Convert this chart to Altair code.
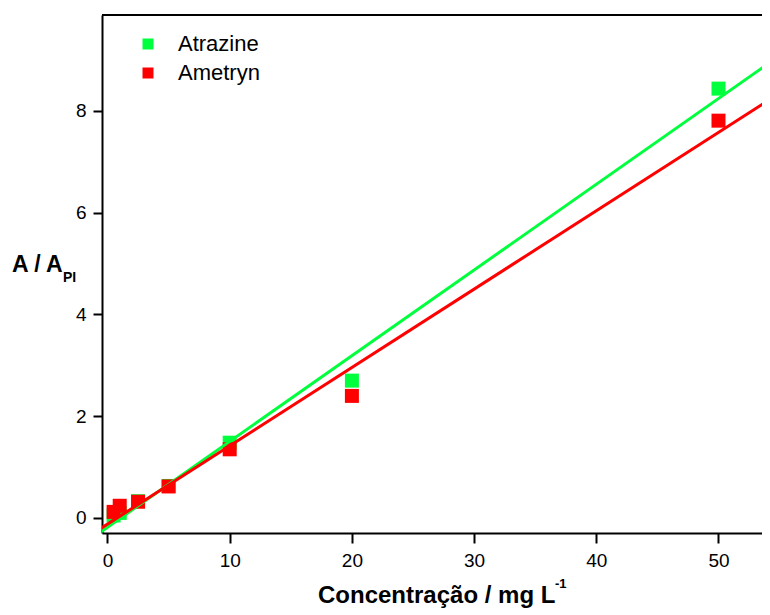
import altair as alt
import pandas as pd

conc = [0.5, 1, 2.5, 5, 10, 20, 50]
atrazine = [0.05, 0.10, 0.33, 0.63, 1.48, 2.70, 8.44]
ametryn = [0.12, 0.24, 0.32, 0.62, 1.35, 2.40, 7.81]
series = ["Atrazine", "Ametryn"]
colors = ["#00ff3c", "#ff0000"]
x_ticks = [0, 10, 20, 30, 40, 50]
y_ticks = [0, 2, 4, 6, 8]

rows = []
for c, a, m in zip(conc, atrazine, ametryn):
    rows.append({"conc": c, "val": a, "series": "Atrazine", "order": 0})
    rows.append({"conc": c, "val": m, "series": "Ametryn", "order": 1})
df = pd.DataFrame(rows)

W, H = 660, 518
FONT = "Liberation Sans"

xs = alt.Scale(domain=[-0.45, 53.56], nice=False, zero=False)
ys = alt.Scale(domain=[-0.295, 9.887], nice=False, zero=False)
cs = alt.Scale(domain=series, range=colors)

xax = alt.Axis(values=x_ticks, title=None, grid=False, domainColor="black", domainWidth=2,
               tickColor="black", tickWidth=2, tickSize=10, labelFontSize=19, labelFont=FONT,
               labelColor="black", labelPadding=8)
yax = alt.Axis(values=y_ticks, title=None, grid=False, domainColor="black", domainWidth=2,
               tickColor="black", tickWidth=2, tickSize=9, labelFontSize=19, labelFont=FONT,
               labelColor="black", labelPadding=7)

base = alt.Chart(df)

points = base.mark_square(size=196, opacity=1).encode(
    x=alt.X("conc:Q", scale=xs, axis=xax),
    y=alt.Y("val:Q", scale=ys, axis=yax),
    color=alt.Color("series:N", scale=cs, sort=series,
                    legend=alt.Legend(title=None, orient="none", legendX=35, legendY=18,
                                      symbolType="square", symbolSize=121, symbolStrokeWidth=0,
                                      labelFontSize=22, labelFont=FONT, labelColor="black",
                                      labelOffset=19, rowPadding=7)),
    order="order:Q",
)

lines = []
for s, col in zip(series, colors):
    ln = base.transform_filter(alt.datum.series == s).transform_regression(
        "conc", "val", extent=[-1, 60]
    ).mark_line(color=col, strokeWidth=3, clip=True).encode(
        x=alt.X("conc:Q", scale=xs),
        y=alt.Y("val:Q", scale=ys),
    )
    lines.append(ln)

top = alt.Chart(pd.DataFrame({"k": [0]})).mark_rule(color="black", strokeWidth=2).encode(
    x=alt.value(0), x2=alt.value(W), y=alt.value(0)
)

xt1 = alt.Chart(pd.DataFrame({"t": ["Concentração / mg L"]})).mark_text(
    font=FONT, fontSize=24, fontWeight="bold", align="left", baseline="alphabetic", color="black"
).encode(text="t:N", x=alt.value(216), y=alt.value(588))
xt2 = alt.Chart(pd.DataFrame({"t": ["-1"]})).mark_text(
    font=FONT, fontSize=13, fontWeight="bold", align="left", baseline="alphabetic", color="black"
).encode(text="t:N", x=alt.value(453), y=alt.value(573))
yt1 = alt.Chart(pd.DataFrame({"t": ["A / A"]})).mark_text(
    font=FONT, fontSize=23, fontWeight="bold", align="left", baseline="alphabetic", color="black"
).encode(text="t:N", x=alt.value(-90), y=alt.value(257))
yt2 = alt.Chart(pd.DataFrame({"t": ["PI"]})).mark_text(
    font=FONT, fontSize=14, fontWeight="bold", align="left", baseline="alphabetic", color="black"
).encode(text="t:N", x=alt.value(-39), y=alt.value(267))

chart = alt.layer(points, *lines, top, xt1, xt2, yt1, yt2).properties(
    width=W, height=H,
    autosize=alt.AutoSizeParams(type="none"),
    padding={"left": 94, "top": 7, "right": 0, "bottom": 82},
).configure_view(stroke=None).configure(background="white")

chart.save("out.html", embed_options={"renderer": "svg", "actions": False})
